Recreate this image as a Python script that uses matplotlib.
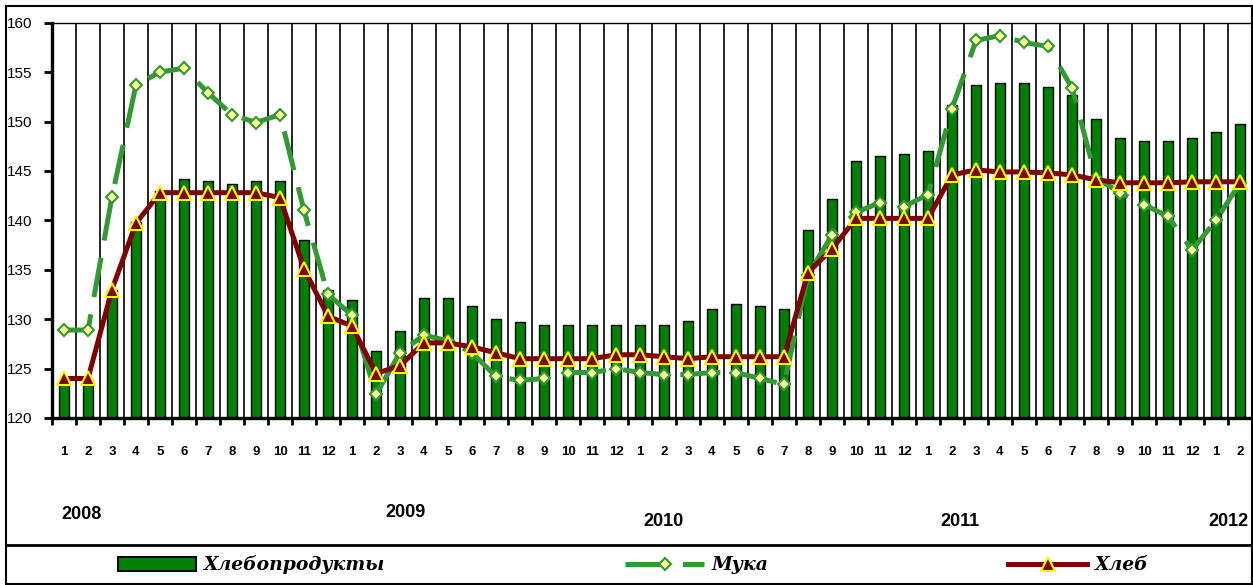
import numpy as np
import matplotlib.pyplot as plt
from matplotlib.patches import Rectangle, Patch
from matplotlib.lines import Line2D

# monthly indices, Jan 2008 .. Feb 2012
month_labels = ["1", "2", "3", "4", "5", "6", "7", "8", "9", "10", "11", "12",
                "1", "2", "3", "4", "5", "6", "7", "8", "9", "10", "11", "12",
                "1", "2", "3", "4", "5", "6", "7", "8", "9", "10", "11", "12",
                "1", "2", "3", "4", "5", "6", "7", "8", "9", "10", "11", "12",
                "1", "2"]
years = ["2008", "2009", "2010", "2011", "2012"]

bread_products = [123.8, 123.8, 133.0, 139.8, 143.0, 144.2, 144.0, 143.7, 144.0, 144.0,
                  138.0, 133.0, 131.9, 126.8, 128.8, 132.1, 132.1, 131.3, 130.0, 129.7,
                  129.4, 129.4, 129.4, 129.4, 129.4, 129.4, 129.8, 131.0, 131.5, 131.3,
                  131.0, 139.0, 142.2, 146.0, 146.5, 146.7, 147.0, 151.7, 153.7, 153.9,
                  153.9, 153.5, 152.7, 150.3, 148.3, 148.0, 148.0, 148.3, 148.9, 149.7]

flour = [128.9, 128.9, 142.4, 153.7, 155.0, 155.4, 152.9, 150.7, 149.9, 150.7,
         141.0, 132.5, 130.4, 122.4, 126.6, 128.4, 127.8, 126.6, 124.2, 123.8,
         124.0, 124.6, 124.6, 125.0, 124.6, 124.4, 124.4, 124.6, 124.6, 124.0,
         123.4, 134.5, 138.5, 140.8, 141.8, 141.4, 142.6, 151.3, 158.2, 158.7,
         158.0, 157.6, 153.4, 144.3, 142.8, 141.6, 140.4, 137.0, 140.0, 143.8]

bread = [124.0, 124.0, 133.0, 139.7, 142.8, 142.8, 142.8, 142.8, 142.8, 142.3,
         135.1, 130.3, 129.3, 124.5, 125.3, 127.6, 127.6, 127.2, 126.6, 126.0,
         126.0, 126.0, 126.0, 126.4, 126.4, 126.2, 126.0, 126.2, 126.2, 126.2,
         126.2, 134.7, 137.1, 140.2, 140.2, 140.2, 140.2, 144.6, 145.1, 144.9,
         144.9, 144.8, 144.6, 144.1, 143.8, 143.8, 143.8, 143.9, 143.9, 143.9]

# layout of the year captions (category position, offset below axis)
year_x = [0.75, 14.25, 25.0, 37.33, 48.5]
year_y = [-0.245, -0.24, -0.262, -0.262, -0.262]

W, H = 1253, 585
fig = plt.figure(figsize=(W / 100, H / 100), dpi=100)
ax = fig.add_axes([52 / W, 1 - 418 / H, 1200 / W, (418 - 22.7) / H])

x = np.arange(len(bread_products))
for b in np.arange(0.5, len(x), 1.0):
    ax.axvline(b, color="black", lw=1.2, zorder=1)

ax.bar(x, bread_products, width=0.45, color="#008000", edgecolor="black",
       linewidth=1.0, zorder=2)
ax.plot(x, flour, color="#339933", lw=3.6, dashes=(8, 3.5), marker="D", ms=6.5,
        mfc="#FFFF99", mec="#339933", mew=1.5, zorder=3)
ax.plot(x, bread, color="#800000", lw=3.6, marker="^", ms=10.5, mfc="#800000",
        mec="#FFFF00", mew=1.5, zorder=4)

ax.set_xlim(-0.5, len(x) - 0.5)
ax.set_ylim(120, 160)
ax.set_yticks(range(120, 161, 5))
ax.set_xticks(x)
ax.set_xticklabels(month_labels, fontsize=9.5, fontweight="bold",
                   family="Liberation Sans")
ax.set_xticks(np.arange(-0.5, len(x), 1.0), minor=True)
ax.tick_params(axis="x", which="major", length=0, pad=20)
ax.tick_params(axis="x", which="minor", direction="out", length=5, width=2)
ax.tick_params(axis="y", direction="out", length=6, width=2, pad=8, labelsize=11)
for lab in ax.get_yticklabels():
    lab.set_family("Liberation Sans")

for side in ["left", "bottom"]:
    ax.spines[side].set_linewidth(2.4)
for side in ["top", "right"]:
    ax.spines[side].set_linewidth(1.0)

for yr, xp, yp in zip(years, year_x, year_y):
    ax.text(xp, yp, yr, transform=ax.get_xaxis_transform(), ha="center",
            va="center", fontsize=13, fontweight="bold", family="Liberation Sans")

# outer frame and legend strip
fig.add_artist(Rectangle((5.5 / W, 1.5 / H), (1251.5 - 5.5) / W, (585 - 6 - 1.5) / H,
                         fill=False, lw=1.5, ec="black", transform=fig.transFigure))
fig.add_artist(Line2D([5.5 / W, 1251.5 / W], [40 / H, 40 / H], lw=2, color="black",
                      transform=fig.transFigure))

handles = [
    Patch(facecolor="#008000", edgecolor="black", linewidth=1.5),
    Line2D([], [], color="#339933", lw=3.6, dashes=(8, 3.5), marker="D", ms=6.5,
           mfc="#FFFF99", mec="#339933", mew=1.5),
    Line2D([], [], color="#800000", lw=3.6, marker="^", ms=10.5, mfc="#800000",
           mec="#FFFF00", mew=1.5),
]
labels = ["Хлебопродукты", "Мука", "Хлеб"]
fig.legend(handles, labels, loc="center", bbox_to_anchor=(633 / W, 1 - 565 / H),
           ncol=3, frameon=False, handlelength=4.2, handletextpad=0.4,
           columnspacing=12.8,
           prop={"family": "DejaVu Serif", "style": "italic", "weight": "bold",
                 "size": 13.5})

fig.savefig("out.png", dpi=100)
